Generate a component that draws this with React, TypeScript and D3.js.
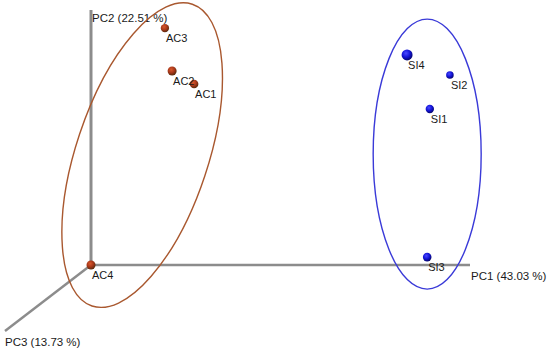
import React from "react";
import * as d3 from "d3";

// Sample names and groups
const samples = ["AC1", "AC2", "AC3", "AC4", "SI1", "SI2", "SI3", "SI4"];
const groups = ["AC", "AC", "AC", "AC", "SI", "SI", "SI", "SI"];
// Projected PCA coordinates (horizontal = PC1, vertical = PC2 in projection units)
const pcX = [27.2, 21.4, 19.5, 0.0, 89.4, 94.7, 88.7, 83.4];
const pcY = [71.0, 76.1, 92.9, 0.0, 61.2, 74.5, 3.1, 82.4];
const pointSize = [4.3, 4.5, 4.2, 4.5, 4.2, 3.8, 4.3, 5.5];

const axisLabels = ["PC1 (43.03 %)", "PC2 (22.51 %)", "PC3 (13.73 %)"];

// Group ellipses (center in projection units)
const ellipseGroups = ["AC", "SI"];
const ellipseCX = [13.5, 88.7];
const ellipseCY = [43.1, 43.5];

const W = 550;
const H = 352;

export default function App() {
  const x = d3.scaleLinear().domain([0, 100]).range([91, 470]);
  const y = d3.scaleLinear().domain([0, 100]).range([265, 10]);
  const ox = x(0);
  const oy = y(0);

  const ellipseStyle: Record<string, any> = {
    AC: { rx: 159, ry: 66, rot: -71.6, stroke: "#a9582f" },
    SI: { rx: 54, ry: 135, rot: 0, stroke: "#3a3ad8" },
  };
  const pointFill: Record<string, string> = { AC: "url(#gAC)", SI: "url(#gSI)" };

  return (
    <svg
      width={W}
      height={H}
      style={{ position: "absolute", left: 0, top: 0, background: "#fff" }}
      fontFamily="'Liberation Sans', Arial, sans-serif"
    >
      <defs>
        <radialGradient id="gAC" cx="40%" cy="35%" r="65%">
          <stop offset="0%" stopColor="#d9582c" />
          <stop offset="55%" stopColor="#a8381a" />
          <stop offset="100%" stopColor="#5a2a0c" />
        </radialGradient>
        <radialGradient id="gSI" cx="40%" cy="35%" r="65%">
          <stop offset="0%" stopColor="#4a4aff" />
          <stop offset="55%" stopColor="#1414d8" />
          <stop offset="100%" stopColor="#05056e" />
        </radialGradient>
      </defs>
      {/* axes */}
      <line x1={ox} y1={oy} x2={x(100)} y2={oy} stroke="#8c8c8c" strokeWidth={2.6} />
      <line x1={ox} y1={oy} x2={ox} y2={y(100)} stroke="#8c8c8c" strokeWidth={3} />
      <line x1={ox} y1={oy} x2={5} y2={331} stroke="#8c8c8c" strokeWidth={2.4} />
      <text x={x(100) + 1} y={oy + 15} fontSize={11.5} fill="#1a1a1a">{axisLabels[0]}</text>
      <text x={ox + 1} y={y(100) + 12} fontSize={11.5} fill="#1a1a1a">{axisLabels[1]}</text>
      <text x={5} y={346} fontSize={11.5} fill="#1a1a1a">{axisLabels[2]}</text>

      {/* ellipses */}
      {ellipseGroups.map((g, i) => {
        const s = ellipseStyle[g];
        return (
          <ellipse
            key={g}
            rx={s.rx}
            ry={s.ry}
            transform={`translate(${x(ellipseCX[i])},${y(ellipseCY[i])}) rotate(${s.rot})`}
            fill="none"
            stroke={s.stroke}
            strokeWidth={1.4}
          />
        );
      })}

      {/* points */}
      {samples.map((s, i) => (
        <g key={s}>
          <circle cx={x(pcX[i])} cy={y(pcY[i])} r={pointSize[i]} fill={pointFill[groups[i]]} />
          <text x={x(pcX[i]) + 1} y={y(pcY[i]) + 14} fontSize={11} fill="#1a1a1a">{s}</text>
        </g>
      ))}
    </svg>
  );
}
